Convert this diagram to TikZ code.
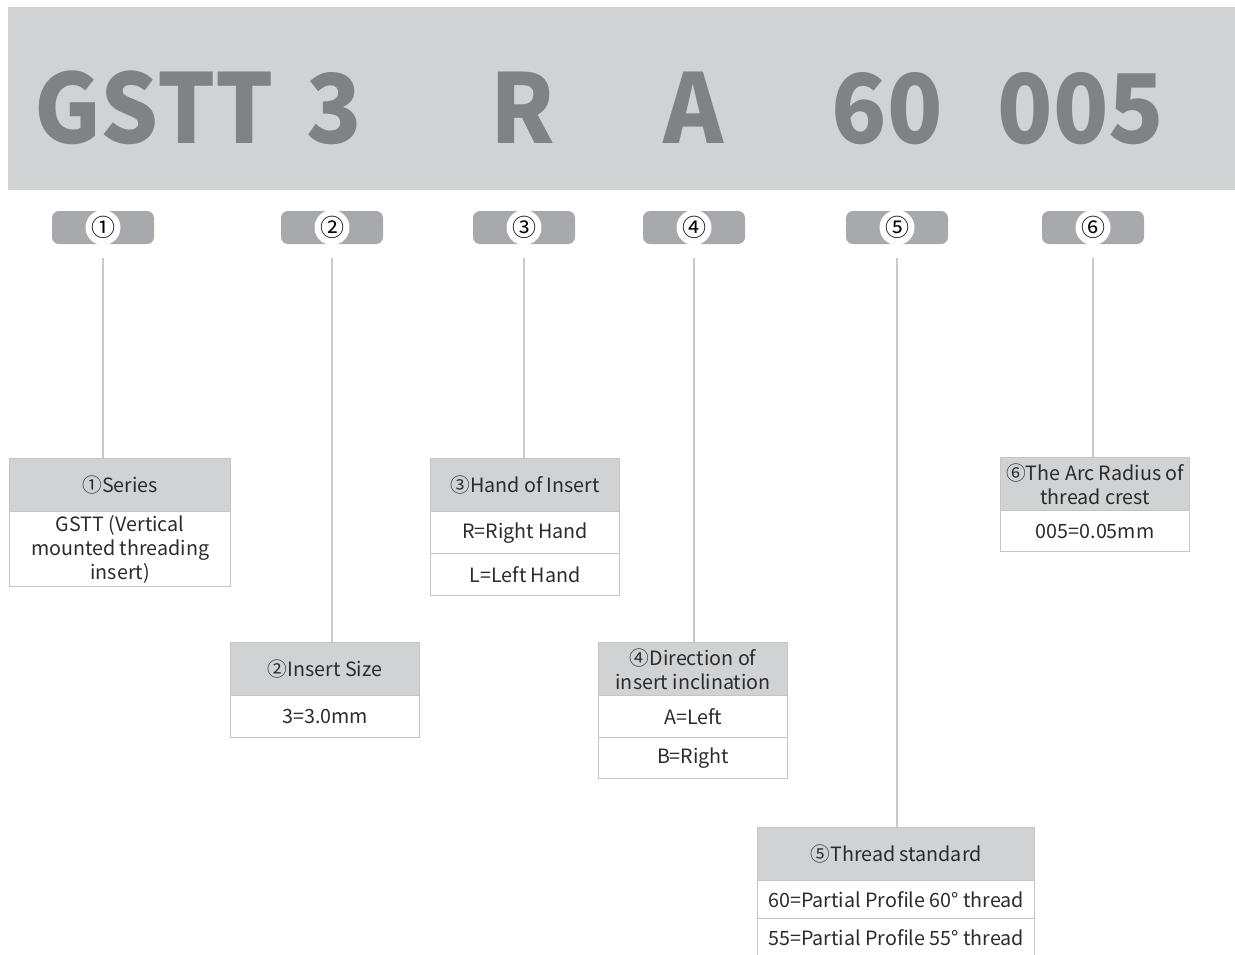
\documentclass[tikz,border=0pt]{standalone}
\usepackage{fontspec}
\setmainfont{Noto Sans CJK SC}
\definecolor{banner}{HTML}{D1D2D4}
\definecolor{bigtxt}{HTML}{808285}
\definecolor{pillc}{HTML}{A7A9AC}
\definecolor{hdr}{HTML}{D1D2D4}
\definecolor{edge}{HTML}{C4C5C7}
\definecolor{txt}{HTML}{2B2B2B}
\definecolor{connc}{HTML}{C8C9CB}
\begin{document}
\begin{tikzpicture}[x=1pt,y=-1pt,
  cell/.style={draw=edge, line width=1.3pt, inner sep=0pt, align=center, anchor=north west,
    text=txt, font=\fontsize{19.7}{24}\selectfont},
  hcell/.style={cell, fill=hdr},
  big/.style={anchor=base, inner sep=0pt, text=bigtxt, xscale=0.95, font=\fontsize{96}{96}\selectfont\bfseries},
  pillbox/.style={fill=pillc, rounded corners=7pt, minimum width=102pt, minimum height=33pt, inner sep=0pt},
  pillnum/.style={circle, fill=white, minimum size=35pt, inner sep=0pt, font=\fontsize{24}{24}\selectfont, text=black},
  connector/.style={draw=connc, line width=1.3pt}
]
\useasboundingbox (0,0) rectangle (1235,954);
\clip (0,0) rectangle (1235,954);
% banner
\fill[banner] (8,7) rectangle (1235,190);
\node[big] (t1) at (154,143) {GSTT};
\node[big] (t2) at (334,143) {3};
\node[big] (t3) at (523,143) {R};
\node[big] (t4) at (694,143) {A};
\node[big] (t5) at (887,143) {60};
\node[big] (t6) at (1081,143) {005};
% pills
\foreach \n/\x in {1/103,2/332,3/524,4/694,5/897,6/1093}{
  \node[pillbox] (p\n) at (\x,227.5) {};
}
\node[pillnum] at (p1) {①};
\node[pillnum] at (p2) {②};
\node[pillnum] at (p3) {③};
\node[pillnum] at (p4) {④};
\node[pillnum] at (p5) {⑤};
\node[pillnum] at (p6) {⑥};
% box 1
\node[hcell, minimum width=221pt, minimum height=53pt] (h1) at (9,458) {①Series};
\node[cell, minimum width=221pt, minimum height=75pt] (b1) at (9,511) {GSTT (Vertical\\mounted threading\\insert)};
% box 2
\node[hcell, minimum width=189pt, minimum height=53pt] (h2) at (230,642) {②Insert Size};
\node[cell, minimum width=189pt, minimum height=42pt] (b2) at (230,695) {3=3.0mm};
% box 3
\node[hcell, minimum width=189pt, minimum height=53pt] (h3) at (430,458) {③Hand of Insert};
\node[cell, minimum width=189pt, minimum height=42pt] (b3a) at (430,511) {R=Right Hand};
\node[cell, minimum width=189pt, minimum height=42pt] (b3b) at (430,553) {L=Left Hand};
% box 4
\node[hcell, minimum width=189pt, minimum height=53pt] (h4) at (598,642) {④Direction of\\insert inclination};
\node[cell, minimum width=189pt, minimum height=42pt] (b4a) at (598,695) {A=Left};
\node[cell, minimum width=189pt, minimum height=41pt] (b4b) at (598,737) {B=Right};
% box 5
\node[hcell, minimum width=277pt, minimum height=53pt] (h5) at (757,827) {⑤Thread standard};
\node[cell, minimum width=277pt, minimum height=38pt] (b5a) at (757,880) {60=Partial Profile 60° thread};
\node[cell, minimum width=277pt, minimum height=38pt] (b5b) at (757,918) {55=Partial Profile 55° thread};
% box 6
\node[hcell, minimum width=189pt, minimum height=53pt] (h6) at (1000,457) {⑥The Arc Radius of\\thread crest};
\node[cell, minimum width=189pt, minimum height=41pt] (b6) at (1000,510) {005=0.05mm};
% connectors
\foreach \n in {1,...,6}{
  \draw[connector] ([yshift=-14pt]p\n.south) -- (p\n.south |- h\n.north);
}
\end{tikzpicture}
\end{document}
